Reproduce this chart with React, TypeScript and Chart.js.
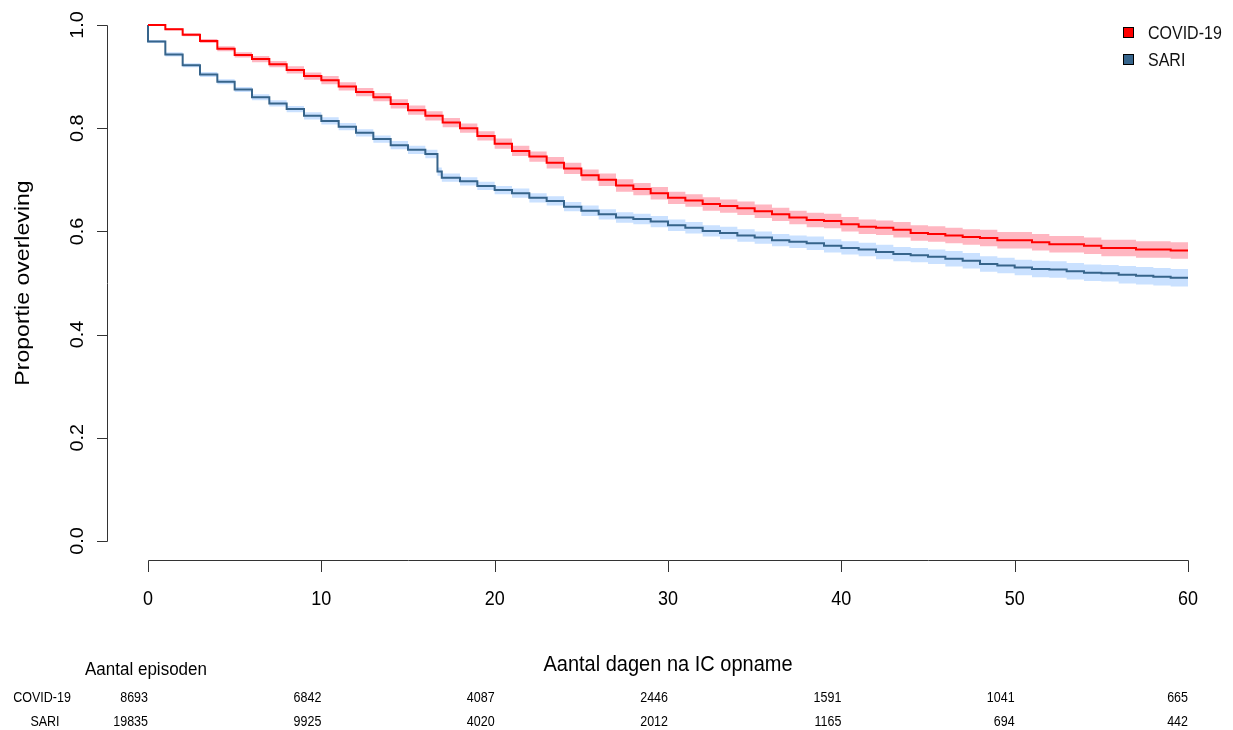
import React, { useEffect, useRef } from "react";
import { Chart, registerables } from "chart.js";

Chart.register(...registerables);

// ---- Data ----
const groups = ["COVID-19", "SARI"];

const covidTime = [
  0, 1, 2, 3, 4, 5, 6, 7, 8, 9, 10, 11, 12, 13, 14, 15, 16, 17, 18, 19, 20, 21, 22, 23, 24, 25, 26, 27, 28, 29,
  30, 31, 32, 33, 34, 35, 36, 37, 38, 39, 40, 41, 42, 43, 44, 45, 46, 47, 48, 49, 50, 51, 52, 53, 54, 55, 56, 57,
  58, 59, 60,
];
const covidSurv = [
  1.0, 0.992, 0.981, 0.969, 0.954, 0.942, 0.934, 0.924, 0.913, 0.901,
  0.893, 0.881, 0.87, 0.86, 0.847, 0.835, 0.824, 0.811, 0.8, 0.785,
  0.77, 0.756, 0.745, 0.733, 0.722, 0.709, 0.7, 0.689, 0.682, 0.674,
  0.665, 0.66, 0.653, 0.649, 0.645, 0.639, 0.633, 0.627, 0.622, 0.62,
  0.614, 0.609, 0.607, 0.603, 0.597, 0.595, 0.592, 0.589, 0.587, 0.583,
  0.583, 0.579, 0.575, 0.575, 0.572, 0.568, 0.568, 0.565, 0.565, 0.563, 0.563,
];
const covidHalf = [
  0, 0.002, 0.003, 0.004, 0.005, 0.005, 0.006, 0.006, 0.007, 0.007,
  0.008, 0.008, 0.008, 0.008, 0.009, 0.009, 0.009, 0.009, 0.009, 0.009,
  0.01, 0.01, 0.01, 0.011, 0.011, 0.011, 0.012, 0.012, 0.012, 0.012,
  0.012, 0.012, 0.013, 0.013, 0.013, 0.013, 0.013, 0.013, 0.014, 0.014,
  0.014, 0.014, 0.014, 0.015, 0.015, 0.015, 0.015, 0.015, 0.016, 0.016,
  0.016, 0.016, 0.016, 0.016, 0.016, 0.016, 0.016, 0.016, 0.016, 0.016, 0.016,
];

const sariTime = [
  0, 0, 1, 2, 3, 4, 5, 6, 7, 8, 9, 10, 11, 12, 13, 14, 15, 16, 16.7, 16.95,
  18, 19, 20, 21, 22, 23, 24, 25, 26, 27, 28, 29, 30, 31, 32, 33, 34, 35, 36, 37, 38, 39, 40, 41, 42, 43, 44,
  45, 46, 47, 48, 49, 50, 51, 52, 53, 54, 55, 56, 57, 58, 59, 60,
];
const sariSurv = [
  1.0, 0.968, 0.943, 0.922, 0.904, 0.89, 0.875, 0.86, 0.848, 0.837, 0.824, 0.814, 0.803, 0.791, 0.779, 0.767,
  0.758, 0.75, 0.716, 0.704,
  0.697, 0.688, 0.68, 0.674, 0.665, 0.659, 0.648, 0.64, 0.633, 0.627,
  0.624, 0.619, 0.612, 0.607, 0.601, 0.597, 0.592, 0.588, 0.583, 0.58,
  0.577, 0.572, 0.568, 0.565, 0.56, 0.556, 0.554, 0.551, 0.547, 0.543,
  0.537, 0.534, 0.53, 0.527, 0.526, 0.523, 0.52, 0.519, 0.516, 0.514,
  0.512, 0.51, 0.51,
];
const sariHalf = [
  0, 0.003, 0.004, 0.004, 0.005, 0.005, 0.005, 0.006, 0.006, 0.006, 0.007, 0.007, 0.007, 0.007, 0.007, 0.008,
  0.008, 0.008, 0.008, 0.008,
  0.008, 0.008, 0.008, 0.009, 0.009, 0.009, 0.009, 0.01, 0.01, 0.01,
  0.01, 0.011, 0.011, 0.011, 0.011, 0.012, 0.012, 0.012, 0.012, 0.012,
  0.013, 0.013, 0.013, 0.013, 0.014, 0.014, 0.014, 0.014, 0.015, 0.015,
  0.015, 0.015, 0.015, 0.016, 0.016, 0.016, 0.016, 0.016, 0.017, 0.017,
  0.017, 0.017, 0.017,
];

const xTicks = [0, 10, 20, 30, 40, 50, 60];
const yTicks = [0, 0.2, 0.4, 0.6, 0.8, 1.0];
const yTickLabels = ["0.0", "0.2", "0.4", "0.6", "0.8", "1.0"];
const riskDays = [0, 10, 20, 30, 40, 50, 60];
const covidAtRisk = [8693, 6842, 4087, 2446, 1591, 1041, 665];
const sariAtRisk = [19835, 9925, 4020, 2012, 1165, 694, 442];

const xTitle = "Aantal dagen na IC opname";
const yTitle = "Proportie overleving";
const riskTitle = "Aantal episoden";

// ---- Styles ----
const RED = "#FF0000";
const BLUE = "#36648B";
const RED_BAND = "#FFB6C1";
const BLUE_BAND = "#CAE1FF";
const FONT = '"Liberation Sans", Arial, sans-serif';
const SY = 1.1;

function txt(
  ctx: CanvasRenderingContext2D,
  s: string,
  x: number,
  y: number,
  size: number,
  align: CanvasTextAlign,
  rot = 0,
  color = "#000"
) {
  ctx.save();
  ctx.translate(x, y);
  ctx.scale(1, SY);
  ctx.rotate(rot);
  ctx.font = `${size}px ${FONT}`;
  ctx.fillStyle = color;
  ctx.textAlign = align;
  ctx.textBaseline = "alphabetic";
  ctx.fillText(s, 0, 0);
  ctx.restore();
}

const mk = (t: number[], v: number[], h?: number[], sign = 0) =>
  t.map((x, i) => ({ x, y: v[i] + (h ? sign * h[i] : 0) }));

const axesPlugin = {
  id: "kmAxes",
  afterDraw(chart: any) {
    const ctx: CanvasRenderingContext2D = chart.ctx;
    const xs = chart.scales.x;
    const ys = chart.scales.y;
    ctx.save();
    ctx.strokeStyle = "#333";
    ctx.lineWidth = 1;

    // Y axis
    const yAxisX = 107.5;
    ctx.beginPath();
    ctx.moveTo(yAxisX, Math.round(ys.getPixelForValue(1)) + 0.5);
    ctx.lineTo(yAxisX, Math.round(ys.getPixelForValue(0)) + 0.5);
    yTicks.forEach((v) => {
      const py = Math.round(ys.getPixelForValue(v)) + 0.5;
      ctx.moveTo(yAxisX, py);
      ctx.lineTo(97, py);
    });
    ctx.stroke();
    yTicks.forEach((v, i) => {
      txt(ctx, yTickLabels[i], 83, ys.getPixelForValue(v), 18, "center", -Math.PI / 2);
    });

    // X axis
    const xAxisY = 560.5;
    ctx.beginPath();
    ctx.moveTo(Math.round(xs.getPixelForValue(0)) + 0.5, xAxisY);
    ctx.lineTo(Math.round(xs.getPixelForValue(60)) + 0.5, xAxisY);
    xTicks.forEach((v) => {
      const px = Math.round(xs.getPixelForValue(v)) + 0.5;
      ctx.moveTo(px, xAxisY);
      ctx.lineTo(px, 572);
    });
    ctx.stroke();
    xTicks.forEach((v) => {
      txt(ctx, String(v), xs.getPixelForValue(v), 605, 18, "center");
    });

    // Titles
    txt(ctx, xTitle, (xs.getPixelForValue(0) + xs.getPixelForValue(60)) / 2, 671, 20, "center");
    txt(ctx, yTitle, 29, (ys.getPixelForValue(0) + ys.getPixelForValue(1)) / 2, 21, "center", -Math.PI / 2);

    // Legend
    const legendColors = [RED, BLUE];
    groups.forEach((g, i) => {
      const top = 27 + i * 27;
      ctx.fillStyle = legendColors[i];
      ctx.fillRect(1123, top, 11, 11);
      ctx.strokeStyle = "#000";
      ctx.strokeRect(1123.5, top + 0.5, 10, 10);
      txt(ctx, g, 1148, top + 12, 16, "left", 0, "#111");
    });

    // Risk table
    txt(ctx, riskTitle, 146, 675, 17, "center");
    const rows = [covidAtRisk, sariAtRisk];
    const rowY = [702, 726];
    const labelX = [42, 45];
    rows.forEach((row, r) => {
      txt(ctx, groups[r], labelX[r], rowY[r], 12.5, "center");
      row.forEach((n, k) => {
        txt(ctx, String(n), xs.getPixelForValue(riskDays[k]), rowY[r], 12.5, "right");
      });
    });
    ctx.restore();
  },
};

export default function App() {
  const ref = useRef<HTMLCanvasElement | null>(null);
  useEffect(() => {
    document.body.style.margin = "0";
    if (!ref.current) return;
    const none = "rgba(0,0,0,0)";
    const chart = new Chart(ref.current, {
      type: "line",
      data: {
        datasets: [
          {
            label: groups[0],
            data: mk(covidTime, covidSurv),
            borderColor: RED,
            borderWidth: 2,
            stepped: true,
            pointRadius: 0,
            fill: false,
            order: 0,
            clip: false,
          } as any,
          {
            label: groups[1],
            data: mk(sariTime, sariSurv),
            borderColor: BLUE,
            borderWidth: 2,
            stepped: true,
            pointRadius: 0,
            fill: false,
            order: 1,
            clip: false,
          } as any,
          {
            label: "covid upper",
            data: mk(covidTime, covidSurv, covidHalf, 1),
            borderColor: none,
            borderWidth: 0,
            backgroundColor: RED_BAND,
            stepped: true,
            pointRadius: 0,
            fill: "+1",
            order: 2,
          } as any,
          {
            label: "covid lower",
            data: mk(covidTime, covidSurv, covidHalf, -1),
            borderColor: none,
            borderWidth: 0,
            stepped: true,
            pointRadius: 0,
            fill: false,
            order: 2,
          } as any,
          {
            label: "sari upper",
            data: mk(sariTime, sariSurv, sariHalf, 1),
            borderColor: none,
            borderWidth: 0,
            backgroundColor: BLUE_BAND,
            stepped: true,
            pointRadius: 0,
            fill: "+1",
            order: 3,
          } as any,
          {
            label: "sari lower",
            data: mk(sariTime, sariSurv, sariHalf, -1),
            borderColor: none,
            borderWidth: 0,
            stepped: true,
            pointRadius: 0,
            fill: false,
            order: 3,
          } as any,
        ],
      },
      options: {
        responsive: false,
        animation: false,
        events: [],
        layout: { padding: { left: 148, right: 45, top: 25, bottom: 189 } },
        scales: {
          x: { type: "linear", min: 0, max: 60, display: false },
          y: { type: "linear", min: 0, max: 1, display: false },
        },
        plugins: {
          legend: { display: false },
          tooltip: { enabled: false },
        },
      },
      plugins: [axesPlugin],
    });
    return () => chart.destroy();
  }, []);
  return (
    <canvas ref={ref} width={1233} height={730} style={{ display: "block", width: 1233, height: 730 }} />
  );
}
